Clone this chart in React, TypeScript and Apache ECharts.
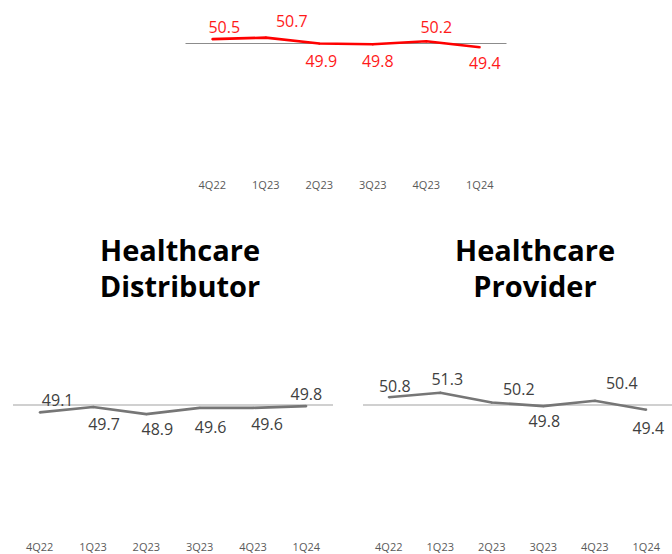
import React, { useEffect, useRef } from "react";
import * as echarts from "echarts";

const quarters = ["4Q22", "1Q23", "2Q23", "3Q23", "4Q23", "1Q24"];
const topValues = [50.5, 50.7, 49.9, 49.8, 50.2, 49.4];
const distributorValues = [49.1, 49.7, 48.9, 49.6, 49.6, 49.8];
const providerValues = [50.8, 51.3, 50.2, 49.8, 50.4, 49.4];
const referenceValue = 50;
const distributorTitle = ["Healthcare", "Distributor"];
const providerTitle = ["Healthcare", "Provider"];

// label offsets (style only)
const topOffsets = [[12, -12], [26, -17], [2, 17], [5, 17], [10, -14], [5, 16]];
const distOffsets = [[18, -12], [11, 17], [11, 15], [11, 19], [14, 16], [0, -12]];
const provOffsets = [[6, -11], [7, -14], [27, -14], [1, 15], [27, -18], [2, 18]];

const FONT = '"Open Sans", "DejaVu Sans", sans-serif';

export default function App() {
  const ref = useRef<HTMLDivElement>(null);
  useEffect(() => {
    if (!ref.current) return;
    const chart = echarts.init(ref.current, undefined, { renderer: "svg" });

    const xAxisBase = (gridIndex: number) => ({
      type: "category",
      gridIndex,
      data: quarters,
      axisLine: { show: false },
      axisTick: { show: false },
      splitLine: { show: false },
      axisLabel: { color: "#595959", fontSize: 11, fontFamily: FONT, margin: 3 },
    });
    const yAxisBase = (gridIndex: number, min: number, max: number) => ({
      type: "value",
      gridIndex,
      min,
      max,
      show: false,
    });
    const makeSeries = (
      idx: number,
      values: number[],
      offsets: number[][],
      lineColor: string,
      labelColor: string,
      refColor: string,
      refWidth: number
    ) => ({
      type: "line",
      xAxisIndex: idx,
      yAxisIndex: idx,
      data: values.map((v, i) => ({ value: v, label: { offset: offsets[i] } })),
      symbol: "circle",
      symbolSize: 2,
      itemStyle: { color: lineColor },
      lineStyle: { color: lineColor, width: 2.6 },
      label: {
        show: true,
        position: "inside",
        color: labelColor,
        fontSize: 16,
        fontFamily: FONT,
        formatter: (p: any) => Number(p.value).toFixed(1),
      },
      z: 3,
      markLine: {
        silent: true,
        symbol: ["none", "none"],
        label: { show: false },
        lineStyle: { color: refColor, width: refWidth, type: "solid" },
        data: [{ yAxis: referenceValue }],
        z: 1,
      },
    });

    const titleText = (text: string, x: number, y: number) => ({
      type: "text",
      style: {
        text,
        x,
        y,
        textAlign: "center",
        textVerticalAlign: "middle",
        font: `bold 29px ${FONT}`,
        fill: "#000000",
      },
    });

    chart.setOption({
      animation: false,
      backgroundColor: "#ffffff",
      grid: [
        { left: 185.5, width: 321, top: 5.8, height: 170.2 },
        { left: 13, width: 320, top: 386.5, height: 151.5 },
        { left: 363, width: 320, top: 386.5, height: 151.5 },
      ],
      xAxis: [xAxisBase(0), xAxisBase(1), xAxisBase(2)],
      yAxis: [yAxisBase(0, 32, 55), yAxisBase(1, 35, 52), yAxisBase(2, 35, 52)],
      series: [
        makeSeries(0, topValues, topOffsets, "#ff0000", "#ff1a1a", "#8c8c8c", 1),
        makeSeries(1, distributorValues, distOffsets, "#767676", "#404040", "#c0c0c0", 1.5),
        makeSeries(2, providerValues, provOffsets, "#767676", "#404040", "#c0c0c0", 1.5),
      ],
      graphic: [
        titleText(distributorTitle[0], 180, 249),
        titleText(distributorTitle[1], 180, 285),
        titleText(providerTitle[0], 535, 249),
        titleText(providerTitle[1], 535, 285),
      ],
    });
    return () => chart.dispose();
  }, []);

  return (
    <div
      ref={ref}
      style={{ position: "absolute", left: 0, top: 0, width: 672, height: 554 }}
    />
  );
}
